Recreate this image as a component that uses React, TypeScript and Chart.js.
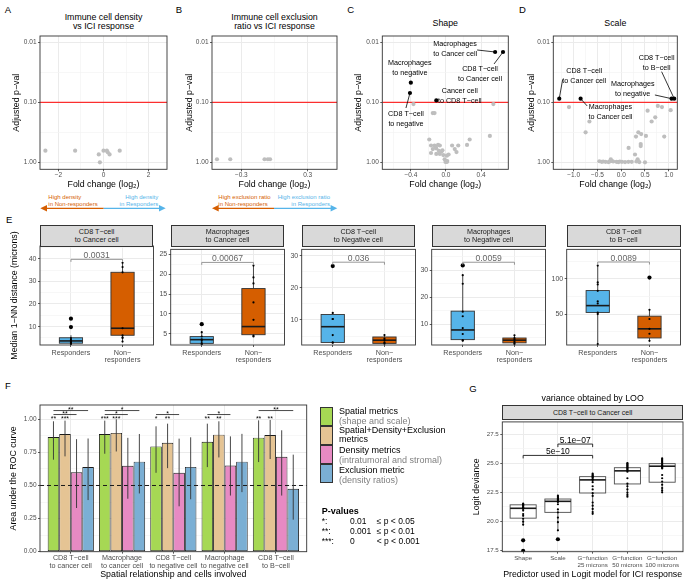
import React, { useEffect, useRef } from 'react';
import { Chart, registerables } from 'chart.js';

Chart.register(...registerables);

const FONT = '"Liberation Sans", Arial, Helvetica, sans-serif';
Chart.defaults.font.family = FONT;

// ---------------- Panel A: immune cell density ----------------
const densityFC = [-2.58, -1.26, -0.21, -0.16, 0.0, 0.15, 0.19, 0.27, 0.72];
const densityP = [0.64, 0.64, 0.74, 1.0, 0.64, 0.64, 0.68, 0.74, 0.64];

// ---------------- Panel B: exclusion ratio ----------------
const exclusionFC = [-0.52, -0.4, -0.09, -0.06, -0.04];
const exclusionP = [0.89, 0.89, 0.89, 0.89, 0.89];

// ---------------- Panel C: shape ----------------
const shapeFC = [-0.37, -0.15, -0.13, 0.54, 0.5, -0.19, 0.27, 0.24, 0.14, 0.07, 0.1, -0.17, -0.13, -0.09, -0.07, -0.15, -0.11, -0.08, -0.05, -0.17, -0.11, -0.07, -0.03, 0.01, -0.015, 0.0, 0.015, -0.005, 0.01, 0.12, -0.12, -0.04, 0.03];
const shapeP = [0.107, 0.151, 0.151, 0.107, 0.363, 0.417, 0.417, 0.513, 0.525, 0.525, 0.603, 0.525, 0.525, 0.513, 0.525, 0.603, 0.589, 0.646, 0.661, 0.7, 0.724, 0.724, 0.759, 0.776, 0.891, 0.955, 0.955, 0.989, 0.989, 0.676, 0.55, 0.63, 0.741];
const shapeSigLabel = [['Macrophages', 'to Cancer cell'], ['CD8 T−cell', 'to Cancer cell'], ['Macrophages', 'to negative'], ['CD8 T−cell', 'to negative'], ['Cancer cell', 'to CD8 T−cell']];
const shapeSigFC = [0.56, 0.65, -0.4, -0.41, -0.11];
const shapeSigP = [0.0145, 0.0145, 0.047, 0.07, 0.093];

// ---------------- Panel D: scale ----------------
const scaleFC = [-1.1, -0.67, -0.75, 0.555, 0.77, 0.857, 0.716, 0.64, 1.04, 0.36, 0.42, 0.31, 0.52, 0.905, 0.41, 0.41, 0.155, 0.29, 0.345, 0.5, -0.46, -0.41, -0.38, -0.33, -0.27, -0.24, -0.2, -0.17, -0.1, -0.06, -0.03, 0.015, 0.08, 0.15, 0.22, 0.32, 0.38, -0.22];
const scaleP = [0.12, 0.209, 0.316, 0.138, 0.115, 0.12, 0.178, 0.209, 0.135, 0.316, 0.339, 0.372, 0.363, 0.372, 0.495, 0.537, 0.575, 0.741, 0.891, 1.0, 0.96, 0.98, 0.97, 0.98, 0.99, 0.97, 0.95, 0.97, 0.98, 0.99, 0.97, 0.98, 0.99, 0.98, 0.98, 0.97, 0.99, 0.89];
const scaleSigLabel = [['CD8 T−cell', 'to Cancer cell'], ['Macrophages', 'to Cancer cell'], ['Macrophages', 'to negative'], ['CD8 T−cell', 'to B−cell']];
const scaleSigFC = [-1.305, -0.855, 1.06, 1.115];
const scaleSigP = [0.087, 0.087, 0.087, 0.087];

// ---------------- Panel E: 1-NN distances ----------------
const eFacets = [['CD8 T−cell', 'to Cancer cell'], ['Macrophages', 'to Cancer cell'], ['CD8 T−cell', 'to Negative cell'], ['Macrophages', 'to Negative cell'], ['CD8 T−cell', 'to B−cell']];
const eGroups: (string | string[])[] = ['Responders', ['Non−', 'responders']];
// [lower whisker, q1, median, q3, upper whisker]
const eRespBox = [[2.3, 2.7, 3.7, 5.1, 6.2], [2.2, 2.56, 3.5, 4.27, 5.4], [2.8, 3.0, 7.9, 11.7, 12.4], [3.6, 4.2, 7.8, 14.8, 28.2], [7.4, 52.3, 62, 83.4, 119]];
const eNonBox = [[3.4, 6.2, 9.3, 34, 38.2], [4.2, 4.75, 6.8, 16.4, 22.2], [2.4, 2.7, 3.7, 4.7, 5.5], [2.5, 3.0, 4.0, 4.8, 6.0], [12, 16, 29, 47, 56.5]];
const eRespOut = [[13.5, 9.8], [7.4], [26.8], [31.8], []];
const eNonOut = [[], [], [], [], [101.8]];
const eRespPts = [[13.5, 9.8, 5.0, 4.4, 3.8, 3.4, 3.0, 2.6, 2.3], [7.4, 5.4, 4.3, 3.6, 3.2, 2.6, 2.3], [26.8, 12.2, 10.3, 10.3, 5.3, 3.0, 2.9], [31.8, 28.2, 25, 14.6, 12.9, 8.5, 6.3, 4.0, 3.8], [119, 95, 92, 83, 68, 65, 52, 50, 7.4]];
const eNonPts = [[38.2, 36.3, 34, 9.3, 6.2, 5.3, 5.0, 3.4], [22.2, 19.2, 17.7, 12.9, 8.5, 4.5, 4.3], [5.3, 4.2, 3.7, 3.0, 2.6], [5.8, 4.8, 4.2, 3.5, 3.0, 2.6], [101.8, 56, 43, 29, 22, 12]];
const ePval = ['0.0031', '0.00067', '0.036', '0.0059', '0.0089'];
const eBracketY = [39.7, 23, 28, 33, 124];
const eYMin = [1.9, 2.15, 2.2, 2.2, 6];
const eYMax = [45.6, 26.3, 32, 37.8, 142];
const eYTicks = [[10, 20, 30, 40], [5, 10, 15, 20, 25], [10, 20, 30], [10, 20, 30], [50, 100]];
const eYMinor = [[5, 15, 25, 35, 45], [2.5, 7.5, 12.5, 17.5, 22.5], [5, 15, 25], [5, 15, 25, 35], [25, 75, 125]];

// ---------------- Panel F: AUC ----------------
const fGroups = [['CD8 T−cell', 'to cancer cell'], ['Macrophage', 'to cancer cell'], ['CD8 T−cell', 'to negative cell'], ['Macrophage', 'to negative cell'], ['CD8 T−cell', 'to B−cell']];
const fSeries = ['Spatial metrics', 'Spatial+Density+Exclusion metrics', 'Density metrics', 'Exclusion metric'];
const aucSpatial = [0.866, 0.889, 0.795, 0.83, 0.861];
const aucSpatialLo = [0.695, 0.74, 0.596, 0.639, 0.677];
const aucSpatialHi = [0.985, 0.99, 0.947, 0.967, 0.992];
const aucCombined = [0.889, 0.897, 0.823, 0.884, 0.881];
const aucCombinedLo = [0.72, 0.757, 0.631, 0.712, 0.7];
const aucCombinedHi = [0.99, 1.0, 0.967, 0.985, 0.995];
const aucDensity = [0.6, 0.649, 0.596, 0.651, 0.717];
const aucDensityLo = [0.33, 0.4, 0.343, 0.424, 0.424];
const aucDensityHi = [0.85, 0.86, 0.854, 0.871, 0.917];
const aucExclusion = [0.639, 0.68, 0.64, 0.68, 0.475];
const aucExclusionLo = [0.39, 0.44, 0.396, 0.45, 0.242];
const aucExclusionHi = [0.855, 0.889, 0.864, 0.89, 0.733];
const starsSpatial = ['**', '***', '*', '**', '**'];
const starsCombined = ['***', '***', '**', '**', '**'];
// [group, from series, to series, level, label]
const fBrackets: [number, number, number, number, string][] = [[0, 0, 2, 0, '**'], [0, 0, 3, 1, '**'], [1, 0, 2, 0, '*'], [1, 0, 3, 1, '*'], [2, 0, 2, 0, '*'], [3, 0, 2, 0, '*'], [4, 0, 3, 1, '**']];

// ---------------- Panel G: logit deviance ----------------
const gCats: (string | string[])[] = ['Shape', 'Scale', ['G−function', '25 microns'], ['G−function', '50 microns'], ['G−function', '100 microns']];
const gBox = [[19.6, 20.25, 21.1, 21.4, 21.52], [19.19, 20.75, 21.7, 21.9, 22.2], [20.6, 22.42, 23.55, 23.83, 24.1], [22.1, 23.2, 24.33, 24.6, 25.0], [22.48, 23.35, 24.73, 24.95, 25.4]];
const gOut = [[18.34, 17.42], [18.43], [], [], []];
const gPts = [
  [21.5, 21.45, 21.4, 21.35, 21.3, 21.2, 21.15, 21.1, 21.05, 20.9, 20.6, 20.45, 20.2, 19.95, 19.7, 18.34, 17.42],
  [22.2, 22.1, 22.0, 21.95, 21.9, 21.85, 21.8, 21.7, 21.65, 21.45, 21.0, 20.75, 20.3, 19.9, 19.2, 18.43, 18.4],
  [24.1, 24.0, 23.92, 23.85, 23.8, 23.72, 23.6, 23.55, 23.35, 23.0, 22.73, 22.4, 22.17, 21.6, 21.33, 21.05, 20.77, 20.62],
  [25.0, 24.95, 24.87, 24.8, 24.73, 24.65, 24.59, 24.5, 24.45, 24.35, 24.25, 23.69, 23.22, 23.0, 22.73, 22.45, 22.25, 22.1],
  [25.4, 25.3, 25.2, 25.1, 25.0, 24.9, 24.81, 24.75, 24.67, 24.6, 24.53, 23.97, 23.69, 23.41, 23.13, 22.85, 22.65, 22.48],
];
// [from, to, y, label]
const gBrackets: [number, number, number, string][] = [[1, 3, 25.66, '5e−10'], [2, 3, 26.64, '5.1e−07']];

// ---------------- styles / layout constants ----------------
const GRID = '#EBEBEB';
const GRID_MINOR = '#F4F4F4';
const TICK_TXT = '#4D4D4D';
const FRAME = '#333333';
const ORANGE = '#D55E00';
const BLUE = '#56B4E9';
const F_COLORS = ['#A6D854', '#E5C494', '#E78AC3', '#7BAFD4'];
// label placement [dx, dy, leaderStartDx, leaderStartDy] in px relative to point
const shapeLabelPos = [[-40, -3, -18, -2], [-23, 22, -9, 12], [-1, -15], [-4, 26, -4, 15], [23.5, -4.4]];
const scaleLabelPos = [[25, -22.7, 3.4, -19], [29.8, 13.6, 6.6, 7.3], [-38.9, -9.7, -16.7, -3.7], [-17.6, -35.4, -12.6, -27]];
const E_PLOT_L = [40, 170.7, 301.7, 431.7, 566.7];
const E_PLOT_R = [153.3, 284.3, 415, 545.7, 680.7];
const E_CANVAS_L = [0, 154, 285, 415, 546];
const E_CANVAS_T = [224, 244, 244, 244, 244];

interface Ax {
  type?: string; min: number; max: number; major: number[]; minor?: number[];
  fmt: (v: number) => string | string[]; font: number; lh?: number; size: number;
  tickPad?: number; tickLen?: number; title?: string; titlePad?: number; reverse?: boolean;
}

function axis(a: Ax, horizontal: boolean): any {
  const minor = a.minor ?? [];
  const isMajor = (v: any) => typeof v === 'number' && a.major.some((m) => Math.abs(m - v) < 1e-9);
  return {
    type: a.type ?? 'linear', min: a.min, max: a.max, reverse: !!a.reverse, offset: false, bounds: 'data',
    afterBuildTicks: (s: any) => { s.ticks = [...a.major, ...minor].map((v) => ({ value: v })); },
    afterFit: (s: any) => { if (horizontal) s.height = a.size; else s.width = a.size; },
    ticks: {
      autoSkip: false, maxRotation: 0, minRotation: 0, padding: a.tickPad ?? 1, color: TICK_TXT,
      font: { family: FONT, size: a.font, lineHeight: a.lh ?? 1.1 },
      callback: (v: any) => (isMajor(v) ? a.fmt(v) : ''),
    },
    grid: {
      offset: false, drawTicks: true, tickLength: a.tickLen ?? 2, tickWidth: 0.8,
      color: (c: any) => (isMajor(c.tick?.value) ? GRID : GRID_MINOR),
      lineWidth: (c: any) => (isMajor(c.tick?.value) ? 1 : 0.7),
      tickColor: (c: any) => (isMajor(c.tick?.value) ? FRAME : 'rgba(0,0,0,0)'),
    },
    border: { display: false },
    title: a.title
      ? { display: true, text: a.title, color: '#000', font: { family: FONT, size: 8.8, lineHeight: 1.2 }, padding: { top: a.titlePad ?? 0, bottom: a.titlePad ?? 0 } }
      : { display: false },
  };
}

function base(pad: any, x: any, y: any): any {
  return {
    responsive: false, maintainAspectRatio: false, animation: false, events: [],
    layout: { padding: pad, autoPadding: false },
    plugins: { legend: { display: false }, tooltip: { enabled: false }, title: { display: false } },
    scales: { x, y },
  };
}

const frame = {
  id: 'frame',
  afterDatasetsDraw(chart: any) {
    const { ctx, chartArea: c } = chart;
    ctx.save();
    ctx.strokeStyle = FRAME; ctx.lineWidth = 0.9;
    ctx.strokeRect(c.left, c.top, c.right - c.left, c.bottom - c.top);
    ctx.restore();
  },
};

const redLine = {
  id: 'redLine',
  beforeDatasetsDraw(chart: any) {
    const { ctx, chartArea: c, scales } = chart;
    const y = scales.y.getPixelForValue(0.1);
    ctx.save();
    ctx.strokeStyle = '#FF0000'; ctx.lineWidth = 1;
    ctx.beginPath(); ctx.moveTo(c.left, y); ctx.lineTo(c.right, y); ctx.stroke();
    ctx.restore();
  },
};

function labelPlugin(names: string[][], pos: number[][]) {
  return {
    id: 'labels',
    afterDatasetsDraw(chart: any) {
      const ctx = chart.ctx;
      const meta = chart.getDatasetMeta(1);
      ctx.save();
      ctx.font = `7.2px ${FONT}`;
      ctx.fillStyle = '#000'; ctx.strokeStyle = '#000'; ctx.lineWidth = 0.8;
      ctx.textAlign = 'center'; ctx.textBaseline = 'middle';
      names.forEach((nm, i) => {
        const el = meta.data[i];
        const p = pos[i];
        if (p.length > 2) {
          ctx.beginPath(); ctx.moveTo(el.x + p[2], el.y + p[3]); ctx.lineTo(el.x, el.y); ctx.stroke();
        }
        ctx.fillText(nm[0], el.x + p[0], el.y + p[1] - 5);
        ctx.fillText(nm[1], el.x + p[0], el.y + p[1] + 5);
      });
      ctx.restore();
    },
  };
}

function boxPlugin(boxes: number[][], width: number, fills: string[], stroke: string) {
  return {
    id: 'boxes',
    beforeDatasetsDraw(chart: any) {
      const { ctx, scales: { x, y } } = chart;
      ctx.save();
      boxes.forEach((b, i) => {
        const xc = x.getPixelForValue(i + 1);
        const x0 = x.getPixelForValue(i + 1 - width / 2);
        const x1 = x.getPixelForValue(i + 1 + width / 2);
        const [lo, q1, md, q3, hi] = b.map((v) => y.getPixelForValue(v));
        ctx.strokeStyle = stroke; ctx.lineWidth = 0.9;
        ctx.beginPath(); ctx.moveTo(xc, q3); ctx.lineTo(xc, hi); ctx.moveTo(xc, q1); ctx.lineTo(xc, lo); ctx.stroke();
        ctx.fillStyle = fills[i % fills.length];
        ctx.fillRect(x0, q3, x1 - x0, q1 - q3);
        ctx.strokeRect(x0, q3, x1 - x0, q1 - q3);
        ctx.strokeStyle = '#1A1A1A'; ctx.lineWidth = 1.6;
        ctx.beginPath(); ctx.moveTo(x0, md); ctx.lineTo(x1, md); ctx.stroke();
      });
      ctx.restore();
    },
  };
}

function volcano(fc: number[], p: number[], sigFC: number[] | null, sigP: number[] | null, names: string[][] | null, pos: number[][] | null,
  xMin: number, xMax: number, xMajor: number[], xMinor: number[], xFmt: (v: number) => string, yWidth: number, yTitlePad: number, padRight: number): any {
  const datasets: any[] = [{ data: fc.map((x, i) => ({ x, y: p[i] })), pointRadius: 2.1, pointBackgroundColor: '#BEBEBE', pointBorderWidth: 0, pointBorderColor: '#BEBEBE' }];
  if (sigFC && sigP) datasets.push({ data: sigFC.map((x, i) => ({ x, y: sigP[i] })), pointRadius: 2.1, pointBackgroundColor: '#000', pointBorderWidth: 0, pointBorderColor: '#000' });
  const plugins: any[] = [redLine];
  if (names && pos) plugins.push(labelPlugin(names, pos));
  plugins.push(frame);
  return {
    type: 'scatter',
    data: { datasets },
    options: base({ left: 0, top: 36, right: padRight, bottom: 0 },
      axis({ min: xMin, max: xMax, major: xMajor, minor: xMinor, fmt: xFmt, font: 6.5, size: 22.7, tickPad: 0, title: 'Fold change (log₂)', titlePad: 2.4 }, true),
      axis({ type: 'logarithmic', min: 0.00785, max: 1.308, reverse: true, major: [0.01, 0.1, 1], minor: [0.0316, 0.316], fmt: (v) => (v < 0.05 ? '0.01' : v < 0.5 ? '0.10' : '1.00'), font: 6.5, size: yWidth, tickPad: 1.5, title: 'Adjusted p−val', titlePad: yTitlePad }, false)),
    plugins,
  };
}

const signed = (d: number) => (v: number) => (v < 0 ? '−' : '') + Math.abs(v).toFixed(d);

function facetConfig(i: number): any {
  const yWidth = E_PLOT_L[i] - E_CANVAS_L[i];
  const pts = [...eRespPts[i].map((v) => ({ x: 1, y: v })), ...eNonPts[i].map((v) => ({ x: 2, y: v }))];
  const outs = [...eRespOut[i].map((v) => ({ x: 1, y: v })), ...eNonOut[i].map((v) => ({ x: 2, y: v }))];
  const bracket = {
    id: 'ebr',
    afterDatasetsDraw(chart: any) {
      const { ctx, scales: { x, y } } = chart;
      const yy = y.getPixelForValue(eBracketY[i]);
      const x1 = x.getPixelForValue(1), x2 = x.getPixelForValue(2);
      ctx.save();
      ctx.strokeStyle = '#8C8C8C'; ctx.lineWidth = 0.9;
      ctx.beginPath(); ctx.moveTo(x1, yy + 2.5); ctx.lineTo(x1, yy); ctx.lineTo(x2, yy); ctx.lineTo(x2, yy + 2.5); ctx.stroke();
      ctx.fillStyle = '#666'; ctx.font = `8.6px ${FONT}`; ctx.textAlign = 'center'; ctx.textBaseline = 'alphabetic';
      ctx.fillText(ePval[i], (x1 + x2) / 2, yy - 1);
      ctx.restore();
    },
  };
  return {
    type: 'scatter',
    data: {
      datasets: [
        { data: outs, pointRadius: 2.1, pointBackgroundColor: '#000', pointBorderWidth: 0 },
        { data: pts, pointRadius: 1.1, pointBackgroundColor: '#000', pointBorderWidth: 0 },
      ],
    },
    options: base({ left: 0, top: 246 - E_CANVAS_T[i], right: 3.5, bottom: 0 },
      axis({ min: 0.4, max: 2.6, major: [1, 2], fmt: (v) => eGroups[v - 1], font: 7.2, lh: 1.02, size: 23, tickPad: 2 }, true),
      axis({ min: eYMin[i], max: eYMax[i], major: eYTicks[i], minor: eYMinor[i], fmt: (v) => String(v), font: 7, size: yWidth, tickPad: 1.5, title: i === 0 ? 'Median 1−NN distance (microns)' : undefined, titlePad: 9.7 }, false)),
    plugins: [boxPlugin([eRespBox[i], eNonBox[i]], 0.45, [BLUE, ORANGE], FRAME), bracket, frame],
  };
}

function aucConfig(): any {
  const vals = [aucSpatial, aucCombined, aucDensity, aucExclusion];
  const los = [aucSpatialLo, aucCombinedLo, aucDensityLo, aucExclusionLo];
  const his = [aucSpatialHi, aucCombinedHi, aucDensityHi, aucExclusionHi];
  const deco = {
    id: 'fdeco',
    afterDatasetsDraw(chart: any) {
      const { ctx, chartArea: c, scales: { y } } = chart;
      ctx.save();
      const y5 = y.getPixelForValue(0.5);
      ctx.strokeStyle = '#1A1A1A'; ctx.lineWidth = 1; ctx.setLineDash([4, 3]);
      ctx.beginPath(); ctx.moveTo(c.left, y5); ctx.lineTo(c.right, y5); ctx.stroke();
      ctx.setLineDash([]);
      ctx.strokeStyle = '#333'; ctx.lineWidth = 0.9;
      vals.forEach((_, s) => {
        const meta = chart.getDatasetMeta(s);
        meta.data.forEach((el: any, i: number) => {
          ctx.beginPath(); ctx.moveTo(el.x, y.getPixelForValue(los[s][i])); ctx.lineTo(el.x, y.getPixelForValue(his[s][i])); ctx.stroke();
        });
      });
      ctx.fillStyle = '#000'; ctx.font = `7px ${FONT}`; ctx.textAlign = 'center'; ctx.textBaseline = 'alphabetic';
      const ys = y.getPixelForValue(1.01) + 3.5;
      [starsSpatial, starsCombined].forEach((st, s) => {
        const meta = chart.getDatasetMeta(s);
        st.forEach((t, i) => ctx.fillText(t, meta.data[i].x, ys));
      });
      const levels = [1.036, 1.066];
      ctx.strokeStyle = '#1A1A1A'; ctx.lineWidth = 0.8;
      fBrackets.forEach(([g, a, b, lv, t]) => {
        const x1 = chart.getDatasetMeta(a).data[g].x;
        const x2 = chart.getDatasetMeta(b).data[g].x;
        const yy = y.getPixelForValue(levels[lv]);
        ctx.beginPath(); ctx.moveTo(x1, yy); ctx.lineTo(x2, yy); ctx.stroke();
        ctx.fillText(t, (x1 + x2) / 2, yy + 1.5);
      });
      ctx.restore();
    },
  };
  return {
    type: 'bar',
    data: {
      datasets: vals.map((v, s) => ({
        label: fSeries[s],
        data: v.map((val, i) => ({ x: i + 1, y: val })),
        backgroundColor: F_COLORS[s], borderColor: '#1A1A1A', borderWidth: 0.9, borderSkipped: false,
        categoryPercentage: 0.9, barPercentage: 1,
      })),
    },
    options: base({ left: 0, top: 25, right: 5.3, bottom: 0 },
      axis({ min: 0.4, max: 5.6, major: [1, 2, 3, 4, 5], fmt: (v) => fGroups[v - 1], font: 7.2, lh: 1.03, size: 33.3, tickPad: 0.9, title: 'Spatial relationship and cells involved', titlePad: 4.7 }, true),
      axis({ min: 0, max: 1.108, major: [0, 0.25, 0.5, 0.75, 1], minor: [0.125, 0.375, 0.625, 0.875], fmt: (v) => v.toFixed(2), font: 6.5, size: 40, tickPad: 1.5, title: 'Area under the ROC curve', titlePad: 8.7 }, false)),
    plugins: [deco, frame],
  };
}

function devianceConfig(): any {
  const pts = gPts.flatMap((arr, i) => arr.map((v) => ({ x: i + 1, y: v })));
  const outs = gOut.flatMap((arr, i) => arr.map((v) => ({ x: i + 1, y: v })));
  const br = {
    id: 'gbr',
    afterDatasetsDraw(chart: any) {
      const { ctx, scales: { x, y } } = chart;
      ctx.save();
      ctx.strokeStyle = '#1A1A1A'; ctx.lineWidth = 0.9; ctx.fillStyle = '#000';
      ctx.font = `8.5px ${FONT}`; ctx.textAlign = 'center'; ctx.textBaseline = 'alphabetic';
      gBrackets.forEach(([a, b, v, t]) => {
        const x1 = x.getPixelForValue(a), x2 = x.getPixelForValue(b), yy = y.getPixelForValue(v);
        ctx.beginPath(); ctx.moveTo(x1, yy + 3); ctx.lineTo(x1, yy); ctx.lineTo(x2, yy); ctx.lineTo(x2, yy + 3); ctx.stroke();
        ctx.fillText(t, (x1 + x2) / 2, yy - 1.5);
      });
      ctx.restore();
    },
  };
  return {
    type: 'scatter',
    data: {
      datasets: [
        { data: outs, pointRadius: 2.1, pointBackgroundColor: '#000', pointBorderWidth: 0 },
        { data: pts, pointRadius: 1.1, pointBackgroundColor: '#000', pointBorderWidth: 0 },
      ],
    },
    options: base({ left: 0, top: 2, right: 2, bottom: 0 },
      axis({ min: 0.4, max: 5.6, major: [1, 2, 3, 4, 5], fmt: (v) => gCats[v - 1], font: 6.2, lh: 1.1, size: 33.3, tickPad: 1.2, title: 'Predictor used in Logit model for ICI response', titlePad: 4.7 }, true),
      axis({ min: 17.357, max: 28.55, major: [17.5, 20, 22.5, 25, 27.5], minor: [18.75, 21.25, 23.75, 26.25], fmt: (v) => v.toFixed(1), font: 6.2, size: 34.3, tickPad: 1.5, title: 'Logit deviance', titlePad: 3.4 }, false)),
    plugins: [boxPlugin(gBox, 0.75, ['#FFFFFF'], '#4D4D4D'), br, frame],
  };
}

function ChartCanvas({ left, top, width, height, make }: { left: number; top: number; width: number; height: number; make: () => any }) {
  const ref = useRef<HTMLCanvasElement>(null);
  useEffect(() => {
    const chart = new Chart(ref.current as HTMLCanvasElement, make());
    return () => chart.destroy();
  }, []);
  return <canvas ref={ref} width={width} height={height} style={{ position: 'absolute', left, top, width, height }} />;
}

function Txt({ x, y, text, size, color = '#000', align = 'left', weight = 400, lh }: any) {
  const L = lh ?? size * 1.15;
  const tr = align === 'center' ? 'translateX(-50%)' : align === 'right' ? 'translateX(-100%)' : 'none';
  return (
    <div style={{ position: 'absolute', left: x, top: y - L / 2, fontSize: size, lineHeight: `${L}px`, color, fontWeight: weight, whiteSpace: 'pre', textAlign: align, transform: tr, fontFamily: FONT }}>
      {text}
    </div>
  );
}

const legendLines = [
  ['Spatial metrics', '#000'], ['(shape and scale)', '#808080'], ['Spatial+Density+Exclusion', '#000'], ['metrics', '#000'],
  ['Density metrics', '#000'], ['(intratumoral and stromal)', '#808080'], ['Exclusion metric', '#000'], ['(density ratios)', '#808080'],
];
const legendY = [410.7, 420.7, 430, 439.3, 450, 460, 470, 480];

export default function App() {
  return (
    <div style={{ position: 'absolute', left: 0, top: 0, width: 685, height: 585, background: '#fff', overflow: 'hidden', fontFamily: FONT }}>
      <Txt x={4.7} y={10} text="A" size={9.5} />
      <Txt x={175.7} y={10} text="B" size={9.5} />
      <Txt x={347.3} y={10} text="C" size={9.5} />
      <Txt x={519} y={10} text="D" size={9.5} />
      <Txt x={6} y={220} text="E" size={9.5} />
      <Txt x={5} y={386.7} text="F" size={9.5} />
      <Txt x={469.3} y={389} text="G" size={9.5} />

      <Txt x={103.5} y={17.3} text={'Immune cell density\nvs ICI response'} size={8.8} lh={9.4} align="center" />
      <Txt x={274.5} y={17.3} text={'Immune cell exclusion\nratio vs ICI response'} size={8.8} lh={9.4} align="center" />
      <Txt x={445.3} y={22.7} text="Shape" size={8.8} align="center" />
      <Txt x={615.3} y={22.7} text="Scale" size={8.8} align="center" />

      <ChartCanvas left={0} top={0} width={172} height={192} make={() => volcano(densityFC, densityP, null, null, null, null, -2.82, 2.82, [-2, 0, 2], [-1, 1], (v) => (v === 0 ? '0' : (v < 0 ? '−' : '') + Math.abs(v)), 40, 11.4, 5)} />
      <ChartCanvas left={172} top={0} width={170} height={192} make={() => volcano(exclusionFC, exclusionP, null, null, null, null, -0.565, 0.565, [-0.3, 0.3], [0], signed(1), 40, 12.4, 5)} />
      <ChartCanvas left={342} top={0} width={172} height={192} make={() => volcano(shapeFC, shapeP, shapeSigFC, shapeSigP, shapeSigLabel, shapeLabelPos, -0.725, 0.71, [-0.4, 0, 0.4], [-0.6, -0.2, 0.2, 0.6], signed(1), 40.3, 11.5, 5.7)} />
      <ChartCanvas left={514} top={0} width={171} height={192} make={() => volcano(scaleFC, scaleP, scaleSigFC, scaleSigP, scaleSigLabel, scaleLabelPos, -1.43, 1.18, [-1, -0.5, 0, 0.5, 1], [-1.25, -0.75, -0.25, 0.25, 0.75], signed(1), 39.3, 11.9, 7.7)} />

      <Txt x={48.3} y={197.3} text={'High density\nin Non-responders'} size={6} lh={7} color={ORANGE} />
      <Txt x={158.3} y={197.3} text={'High density\nin Responders'} size={6} lh={7} color={BLUE} align="right" />
      <Txt x={218.3} y={197.3} text={'High exclusion ratio\nin Non-responders'} size={6} lh={7} color={ORANGE} />
      <Txt x={330} y={197.3} text={'High exclusion ratio\nin Responders'} size={6} lh={7} color={BLUE} align="right" />
      <svg style={{ position: 'absolute', left: 0, top: 200 }} width={345} height={18}>
        <line x1={103.7} y1={8.3} x2={46} y2={8.3} stroke={ORANGE} strokeWidth={1.3} />
        <polygon points="40.3,8.3 47,5 47,11.6" fill={ORANGE} />
        <line x1={103.7} y1={8.3} x2={160} y2={8.3} stroke={BLUE} strokeWidth={1.3} />
        <polygon points="165.7,8.3 159,5 159,11.6" fill={BLUE} />
        <line x1={274} y1={8.3} x2={218} y2={8.3} stroke={ORANGE} strokeWidth={1.3} />
        <polygon points="212,8.3 218.7,5 218.7,11.6" fill={ORANGE} />
        <line x1={274} y1={8.3} x2={331.5} y2={8.3} stroke={BLUE} strokeWidth={1.3} />
        <polygon points="337.3,8.3 330.6,5 330.6,11.6" fill={BLUE} />
      </svg>

      {eFacets.map((_, i) => (
        <ChartCanvas key={'e' + i} left={E_CANVAS_L[i]} top={E_CANVAS_T[i]} width={Math.round(E_PLOT_R[i] + 3.5 - E_CANVAS_L[i])} height={368 - E_CANVAS_T[i]} make={() => facetConfig(i)} />
      ))}
      {eFacets.map((f, i) => (
        <div key={'strip' + i} style={{ position: 'absolute', left: E_PLOT_L[i], top: 225, width: E_PLOT_R[i] - E_PLOT_L[i], height: 21.5, background: '#D9D9D9', border: `0.9px solid ${FRAME}`, boxSizing: 'border-box', display: 'flex', alignItems: 'center', justifyContent: 'center', fontSize: 7.2, lineHeight: '7.3px', textAlign: 'center', whiteSpace: 'pre', color: '#1A1A1A', fontFamily: FONT }}>
          {f.join('\n')}
        </div>
      ))}

      <ChartCanvas left={0} top={380} width={312} height={205} make={aucConfig} />
      {F_COLORS.map((c, i) => (
        <div key={'key' + i} style={{ position: 'absolute', left: 320, top: 406.7 + i * 19.15, width: 13.3, height: 19.15, background: c, border: `0.9px solid ${FRAME}`, boxSizing: 'border-box' }} />
      ))}
      {legendLines.map(([t, c], i) => (
        <Txt key={'ll' + i} x={339} y={legendY[i]} text={t} size={9} lh={10} color={c} />
      ))}
      <Txt x={321.7} y={510.7} text="P-values" size={9} weight={700} />
      {['*:', '**:', '***:'].map((t, i) => (
        <Txt key={'ps' + i} x={321.7} y={521.7 + i * 10} text={t} size={8.5} />
      ))}
      {['0.01', '0.001', '0'].map((t, i) => (
        <Txt key={'pn' + i} x={350} y={521.7 + i * 10} text={t} size={8.5} />
      ))}
      {['≤ p < 0.05', '≤ p < 0.01', '< p < 0.001'].map((t, i) => (
        <Txt key={'pc' + i} x={376.7} y={521.7 + i * 10} text={t} size={8.5} />
      ))}

      <Txt x={592.7} y={398} text="variance obtained by LOO" size={8.8} align="center" />
      <div style={{ position: 'absolute', left: 502.3, top: 405, width: 180.7, height: 14.5, background: '#D9D9D9', border: `0.9px solid ${FRAME}`, boxSizing: 'border-box', display: 'flex', alignItems: 'center', justifyContent: 'center', fontSize: 7, color: '#1A1A1A', fontFamily: FONT, whiteSpace: 'pre' }}>
        CD8 T−cell to Cancer cell
      </div>
      <ChartCanvas left={468} top={417} width={217} height={168} make={devianceConfig} />
    </div>
  );
}
